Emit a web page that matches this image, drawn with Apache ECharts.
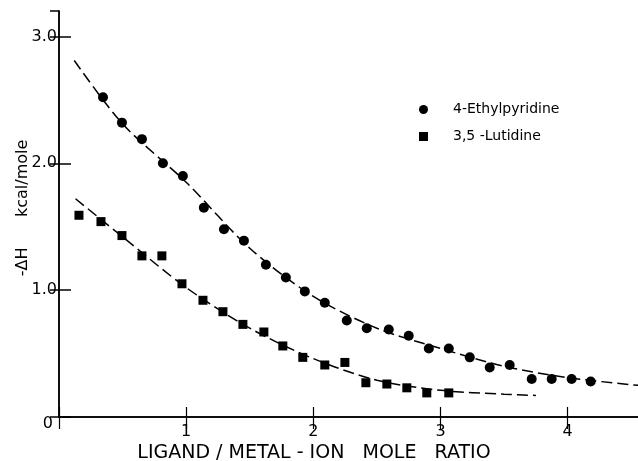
<!DOCTYPE html>
<html>
<head>
<meta charset="utf-8">
<script src="https://cdn.jsdelivr.net/npm/echarts@6/dist/echarts.min.js"></script>
<style>html,body{margin:0;padding:0;background:#fff}#c{width:638px;height:461px}</style>
</head>
<body>
<div id="c"></div>
<script>
// Data
const ethylX = [0.346,0.495,0.652,0.817,0.974,1.139,1.297,1.454,1.627,1.784,1.933,2.090,2.263,2.420,2.593,2.750,2.908,3.065,3.230,3.387,3.544,3.717,3.874,4.031,4.181];
const ethylY = [2.52,2.32,2.19,2.00,1.90,1.65,1.48,1.39,1.20,1.10,0.99,0.90,0.76,0.70,0.69,0.64,0.54,0.54,0.47,0.39,0.41,0.30,0.30,0.30,0.28];
const lutX = [0.157,0.330,0.495,0.652,0.809,0.967,1.132,1.289,1.446,1.611,1.760,1.917,2.090,2.248,2.413,2.578,2.735,2.892,3.065];
const lutY = [1.59,1.54,1.43,1.27,1.27,1.05,0.92,0.83,0.73,0.67,0.56,0.47,0.41,0.43,0.27,0.26,0.23,0.19,0.19];
// fitted curves
const ethylCurveX = [0.12,0.5,1.0,1.5,2.0,2.5,3.0,3.5,4.0,4.6];
const ethylCurveY = [2.81,2.31,1.85,1.33,0.95,0.70,0.54,0.40,0.31,0.245];
const lutCurveX = [0.13,0.5,1.0,1.5,2.0,2.5,3.0,3.5,3.75];
const lutCurveY = [1.72,1.42,1.02,0.70,0.46,0.29,0.21,0.18,0.17];
const xTicks = ['1','2','3','4'];
const seriesNames = ['4-Ethylpyridine','3,5 -Lutidine'];
const xName = 'LIGAND / METAL - ION   MOLE   RATIO';
const yName = '-ΔH      kcal/mole';

const zip = (a,b) => a.map((v,i)=>[v,b[i]]);
const INK = '#000';
const FONT = 'DejaVu Sans';

const chart = echarts.init(document.getElementById('c'), null, {renderer:'canvas'});
chart.setOption({
  backgroundColor:'#fff',
  animation:false,
  textStyle:{fontFamily:FONT,color:INK},
  grid:{left:59, top:11, right:-6, bottom:44, containLabel:false, outerBoundsMode:'none'},
  legend:{
    orient:'vertical', left:414, top:96, itemWidth:9, itemHeight:9, itemGap:10,
    data:[{name:seriesNames[0],icon:'circle'},{name:seriesNames[1],icon:'rect'}],
    textStyle:{fontFamily:FONT,fontSize:14,color:INK,padding:[0,0,0,20],lineHeight:17}
  },
  xAxis:[{
    type:'value', min:0, max:4.6, interval:1, position:'bottom',
    name:xName, nameLocation:'middle', nameGap:27, nameMoveOverlap:false,
    nameTextStyle:{fontFamily:FONT,fontSize:19,color:INK,padding:[0,75,0,0]},
    axisLine:{show:true,lineStyle:{color:INK,width:1.5}},
    axisTick:{show:true,inside:true,length:10,lineStyle:{color:INK,width:1.2}},
    axisLabel:{fontFamily:FONT,fontSize:16,color:INK,margin:7,
      formatter:v=>{const i=Math.round(v); return (Math.abs(v-i)<1e-6 && i>=1 && i<=4)? xTicks[i-1] : '';}},
    splitLine:{show:false}
  },{
    type:'value', min:0, max:4.6, interval:1, position:'top',
    axisLine:{show:true,lineStyle:{color:INK,width:1.5}},
    axisTick:{show:true,inside:true,length:12,lineStyle:{color:INK,width:1.2}},
    axisLabel:{show:false}, splitLine:{show:false}
  }],
  yAxis:[{
    type:'value', min:0, max:3.2, interval:1, position:'left',
    name:yName, nameLocation:'middle', nameGap:28, nameRotate:90, nameMoveOverlap:false,
    nameTextStyle:{fontFamily:FONT,fontSize:16,color:INK,padding:[0,0,0,12]},
    axisLine:{show:true,lineStyle:{color:INK,width:1.5}},
    axisTick:{show:true,inside:true,length:12,lineStyle:{color:INK,width:1.5}},
    axisLabel:{fontFamily:FONT,fontSize:16,color:INK,margin:2,showMaxLabel:false,
      formatter:v=>{ if(Math.abs(v)<1e-6) return '{z|0}'; const i=Math.round(v); return Math.abs(v-i)<1e-6 ? i+'.0' : ''; },
      rich:{z:{fontFamily:FONT,fontSize:16,color:INK,padding:[13,4,0,0]}}},
    splitLine:{show:false}
  },{
    type:'value', min:0, max:3.2, interval:1, position:'right',
    axisLine:{show:true,lineStyle:{color:INK,width:1.5}},
    axisTick:{show:true,inside:true,length:9,lineStyle:{color:INK,width:1.5}},
    axisLabel:{show:false}, splitLine:{show:false}
  }],
  series:[
    {name:'fit1', type:'line', data:zip(ethylCurveX,ethylCurveY), smooth:0.3, symbol:'none', silent:true,
      lineStyle:{color:INK,width:1.5,type:[11,5]}, z:1},
    {name:'fit2', type:'line', data:zip(lutCurveX,lutCurveY), smooth:0.3, symbol:'none', silent:true,
      lineStyle:{color:INK,width:1.5,type:[11,5]}, z:1},
    {name:seriesNames[0], type:'scatter', data:zip(ethylX,ethylY), symbol:'circle', symbolSize:10,
      itemStyle:{color:INK,opacity:1}, z:3},
    {name:seriesNames[1], type:'scatter', data:zip(lutX,lutY), symbol:'rect', symbolSize:9,
      itemStyle:{color:INK,opacity:1}, z:3}
  ]
});
</script>
</body>
</html>
